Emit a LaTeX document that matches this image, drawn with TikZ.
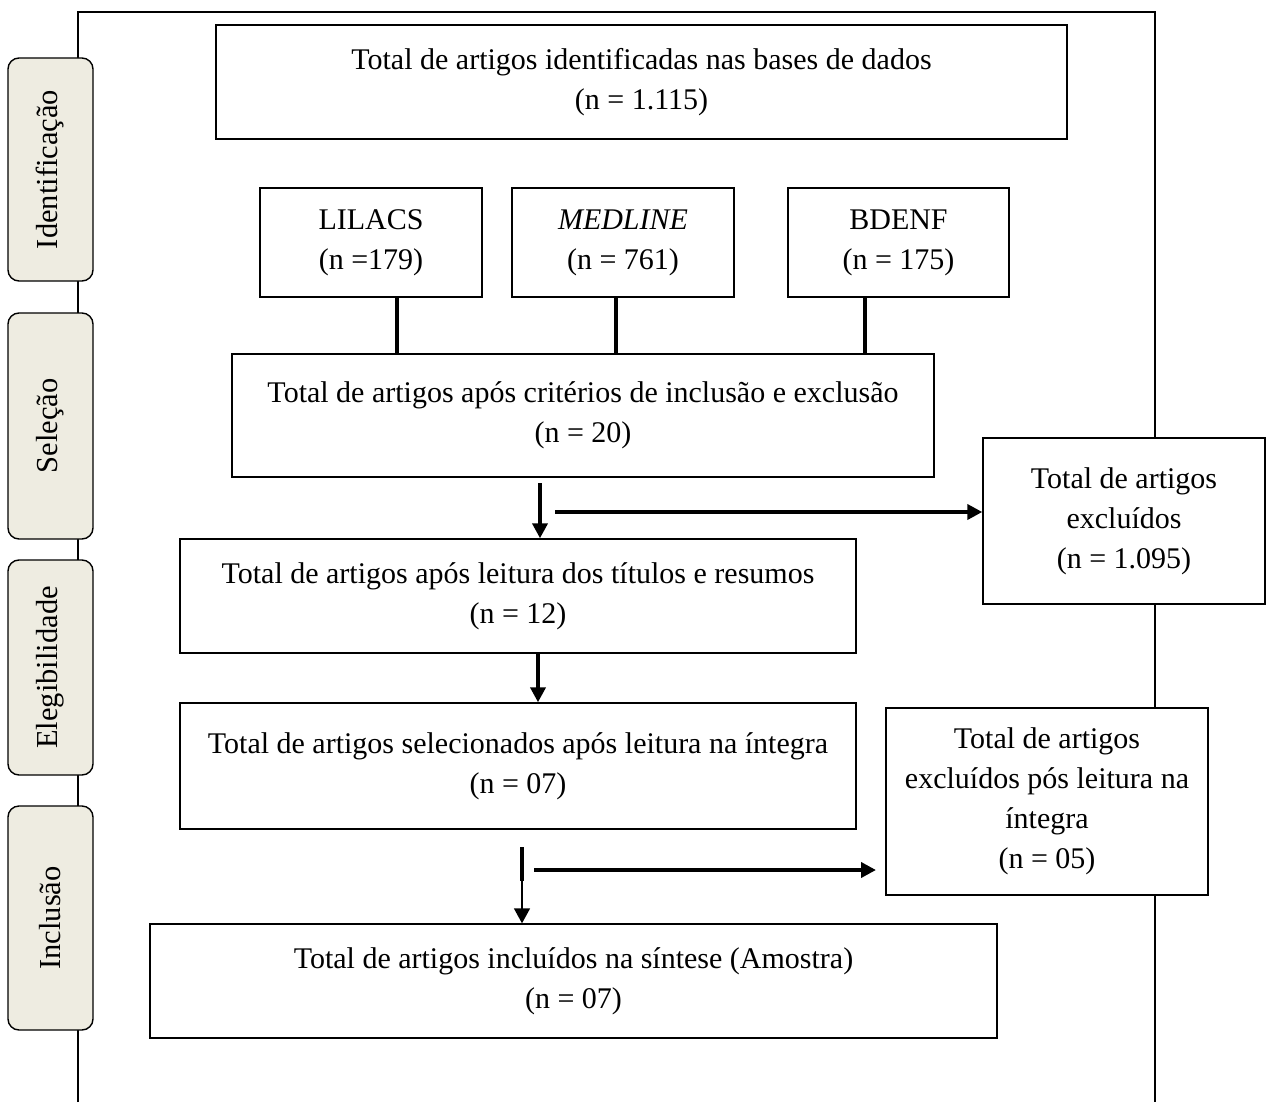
\documentclass[tikz,border=0pt]{standalone}
\usepackage{fontspec}
\setmainfont{Liberation Serif}
\usetikzlibrary{arrows.meta,calc}
\definecolor{tabfill}{HTML}{EEECE1}
\begin{document}
\begin{tikzpicture}[x=1pt,y=-1pt,
  box/.style={draw, fill=white, line width=1.4pt, align=center, inner sep=0pt,
    font=\fontsize{30}{40}\selectfont},
  tab/.style={draw, fill=tabfill, line width=1.4pt, rounded corners=11pt, rotate=90,
    minimum height=85, inner sep=0pt, font=\fontsize{30.5}{34}\selectfont},
  thick line/.style={line width=4pt},
  fat arrow/.style={line width=4pt, -{Triangle[length=15pt,width=15pt]}},
  thin arrow/.style={line width=1.6pt, -{Triangle[length=15pt,width=16pt]}}]
\useasboundingbox (0,0) rectangle (1273,1102);
% outer frame
\draw[line width=1.4pt] (78,1102) -- (78,12) -- (1155,12) -- (1155,1102);
% tabs
\node[tab, minimum width=223] (t1) at (50.5,169.5) {Identificação};
\node[tab, minimum width=226] (t2) at (50.5,426) {Seleção};
\node[tab, minimum width=215] (t3) at (50.5,667.5) {Elegibilidade};
\node[tab, minimum width=224] (t4) at (50.5,918) {Inclusão};
% boxes
\node[box, minimum width=851, minimum height=114] (top) at (641.5,82)
  {Total de artigos identificadas nas bases de dados\\(n = 1.115)};
\node[box, minimum width=222, minimum height=109] (lil) at (371,242.5) {LILACS\\(n =179)};
\node[box, minimum width=222, minimum height=109] (med) at (623,242.5) {\textit{MEDLINE}\\(n = 761)};
\node[box, minimum width=221, minimum height=109] (bde) at (898.5,242.5) {BDENF\\(n = 175)};
\node[box, minimum width=702, minimum height=123] (crit) at (583,415.5)
  {Total de artigos após critérios de inclusão e exclusão\\(n = 20)};
\node[box, minimum width=676, minimum height=114] (tit) at (518,596)
  {Total de artigos após leitura dos títulos e resumos\\(n = 12)};
\node[box, minimum width=282, minimum height=166] (ex1) at (1124,521)
  {Total de artigos\\excluídos\\(n = 1.095)};
\node[box, minimum width=676, minimum height=126] (int) at (518,766)
  {Total de artigos selecionados após leitura na íntegra\\(n = 07)};
\node[box, minimum width=322, minimum height=187] (ex2) at (1047,801.5)
  {Total de artigos\\excluídos pós leitura na\\íntegra\\(n = 05)};
\node[box, minimum width=847, minimum height=114] (sin) at (573.5,981)
  {Total de artigos incluídos na síntese (Amostra)\\(n = 07)};
% connectors from databases
\coordinate (c1) at (397,0);
\coordinate (c2) at (616,0);
\coordinate (c3) at (865,0);
\draw[thick line] (lil.south -| c1) -- (crit.north -| c1);
\draw[thick line] (med.south -| c2) -- (crit.north -| c2);
\draw[thick line] (bde.south -| c3) -- (crit.north -| c3);
% arrows after criteria
\coordinate (a1) at (540,483);
\coordinate (h1) at (555,512);
\draw[fat arrow] (a1) -- (tit.north -| a1);
\draw[fat arrow] (h1) -- (h1 -| ex1.west);
% titles -> integra
\coordinate (a2) at (538,0);
\draw[fat arrow] (tit.south -| a2) -- (int.north -| a2);
% integra -> sintese and excluded
\coordinate (a3) at (522,847);
\coordinate (a3m) at (522,881);
\coordinate (h2) at (534,870);
\coordinate (h2e) at (876,870);
\draw[line width=4pt] (a3) -- (a3m);
\draw[thin arrow] (a3m) -- (sin.north -| a3m);
\draw[fat arrow] (h2) -- (h2e);
\end{tikzpicture}
\end{document}
